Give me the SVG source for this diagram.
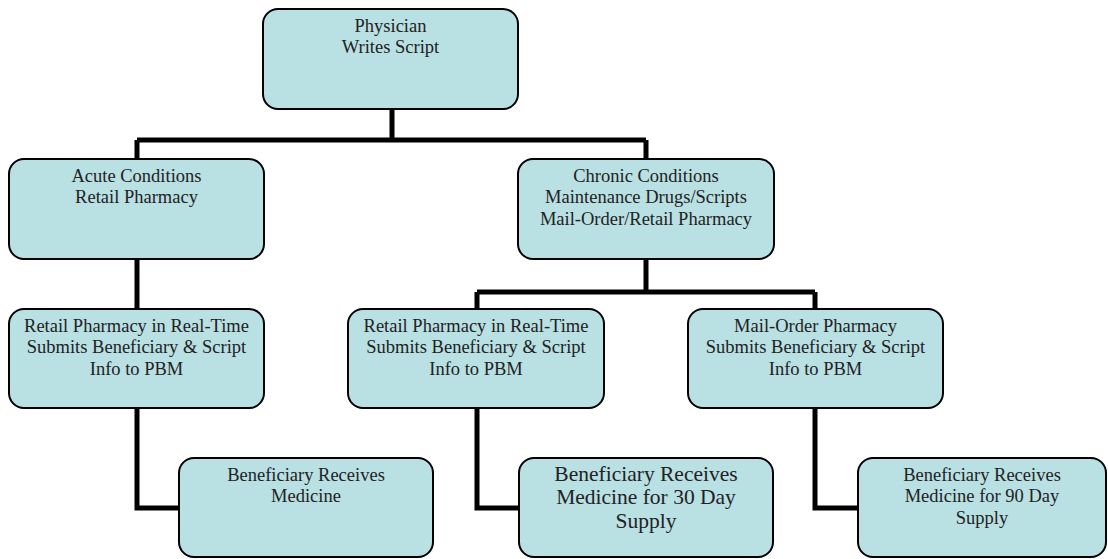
<svg xmlns="http://www.w3.org/2000/svg" width="1108" height="559" viewBox="0 0 1108 559">
<style>
.box{fill:#b9e0e3;stroke:#000;stroke-width:2}
.t{font-family:"Liberation Serif","Times New Roman",serif;font-size:18.5px;fill:#222;text-anchor:middle}
.big{font-size:21.5px}
.c{fill:none;stroke:#000;stroke-width:5;stroke-linejoin:miter}
</style>
<rect width="1108" height="559" fill="#fff"/>
<g id="connectors">
<path class="c" d="M392 109V140M137 140H646M137 140V159M646 140V159"/>
<path class="c" d="M137 259V309"/>
<path class="c" d="M646 259V292M477 292H815M477 292V309M815 292V309"/>
<path class="c" d="M137 408V508H179"/>
<path class="c" d="M477 408V508H519"/>
<path class="c" d="M815 408V508H858"/>
</g>
<g id="physician">
<rect class="box" x="263" y="9" width="255" height="100" rx="15"/>
<text class="t" x="390.5" y="32">Physician</text>
<text class="t" x="390.5" y="53">Writes Script</text>
</g>
<g id="acute">
<rect class="box" x="9" y="159" width="255" height="100" rx="15"/>
<text class="t" x="136.5" y="182">Acute Conditions</text>
<text class="t" x="136.5" y="203">Retail Pharmacy</text>
</g>
<g id="chronic">
<rect class="box" x="518" y="159" width="256" height="100" rx="15"/>
<text class="t" x="646" y="182">Chronic Conditions</text>
<text class="t" x="646" y="203">Maintenance Drugs/Scripts</text>
<text class="t" x="646" y="225">Mail-Order/Retail Pharmacy</text>
</g>
<g id="retail1">
<rect class="box" x="9" y="309" width="255" height="99" rx="15"/>
<text class="t" x="136.5" y="332">Retail Pharmacy in Real-Time</text>
<text class="t" x="136.5" y="353">Submits Beneficiary &amp; Script</text>
<text class="t" x="136.5" y="375">Info to PBM</text>
</g>
<g id="retail2">
<rect class="box" x="348" y="309" width="256" height="99" rx="15"/>
<text class="t" x="476" y="332">Retail Pharmacy in Real-Time</text>
<text class="t" x="476" y="353">Submits Beneficiary &amp; Script</text>
<text class="t" x="476" y="375">Info to PBM</text>
</g>
<g id="mailorder">
<rect class="box" x="688" y="309" width="255" height="99" rx="15"/>
<text class="t" x="815.5" y="332">Mail-Order Pharmacy</text>
<text class="t" x="815.5" y="353">Submits Beneficiary &amp; Script</text>
<text class="t" x="815.5" y="375">Info to PBM</text>
</g>
<g id="benef1">
<rect class="box" x="179" y="458" width="254" height="99" rx="15"/>
<text class="t" x="306" y="481">Beneficiary Receives</text>
<text class="t" x="306" y="502">Medicine</text>
</g>
<g id="benef30">
<rect class="box" x="519" y="458" width="254" height="99" rx="15"/>
<text class="t big" x="646" y="481">Beneficiary Receives</text>
<text class="t big" x="646" y="504">Medicine for 30 Day</text>
<text class="t big" x="646" y="528">Supply</text>
</g>
<g id="benef90">
<rect class="box" x="858" y="458" width="248" height="99" rx="15"/>
<text class="t" x="982" y="481">Beneficiary Receives</text>
<text class="t" x="982" y="502">Medicine for 90 Day</text>
<text class="t" x="982" y="524">Supply</text>
</g>
</svg>
